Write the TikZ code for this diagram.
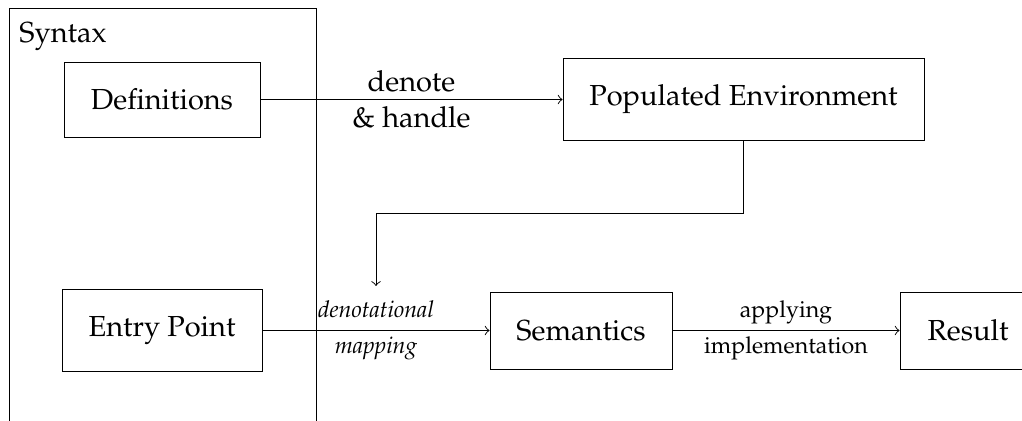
\documentclass[tikz,border=0pt]{standalone}
\usepackage[T1]{fontenc}
\usepackage{mathpazo}
\newcommand\pxu{0.345pt}
\begin{document}
\begin{tikzpicture}[x=0.345pt,y=-0.345pt,>=to,line width=0.32pt,
  box/.style={draw, inner sep=0pt, font=\fontsize{10}{12}\selectfont},
  lbl/.style={align=center, inner sep=0pt, font=\fontsize{8}{12.4}\selectfont},
  biglbl/.style={align=center, inner sep=0pt, font=\fontsize{10}{12.4}\selectfont}]
\clip (0,0) rectangle (1022,421);
% Syntax frame
\node[draw, anchor=north west, inner sep=0pt, minimum width=306.7*\pxu, minimum height=500*\pxu] (syntax) at (9,8) {};
\node[anchor=base west, inner sep=0pt, font=\fontsize{10}{12}\selectfont] (syntaxlbl) at (19,43) {Syntax};
% boxes
\node[box, minimum width=196*\pxu, minimum height=75*\pxu] (def) at (162,99.5) {Definitions};
\node[box, minimum width=361*\pxu, minimum height=82*\pxu] (pop) at (743.5,99.5) {Populated Environment};
\node[box, minimum width=200*\pxu, minimum height=82*\pxu] (entry) at (162,330.5) {Entry Point};
\node[box, minimum width=182*\pxu, minimum height=77*\pxu] (sem) at (581,330.5) {Semantics};
\node[box, minimum width=136*\pxu, minimum height=77*\pxu] (res) at (968,330.5) {Result};
% connectors
\draw[->] (def) -- node[biglbl] (dh) {denote\\\& handle} (pop);
\draw[->] (entry) -- node[lbl, inner ysep=5pt, font=\fontsize{8}{12.4}\selectfont\itshape] (map) {denotational\\mapping} (sem);
\draw[->] (sem) -- node[lbl] (app) {applying\\implementation} (res);
\draw[->] (pop.south) -- ++(0,73) -| (map.north);
\end{tikzpicture}
\end{document}
